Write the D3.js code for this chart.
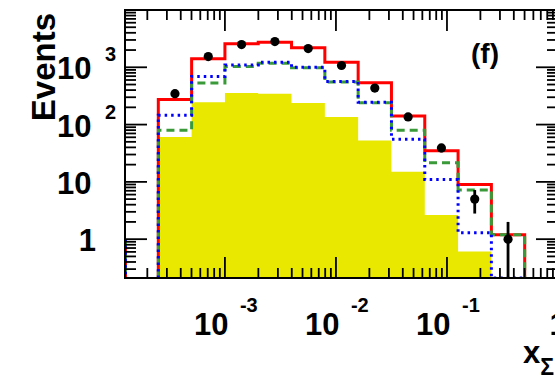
<!DOCTYPE html>
<html>
<head>
<meta charset="utf-8">
<script src="https://cdn.jsdelivr.net/npm/d3@7"></script>
<style>
  body { margin: 0; background: #fff; }
  text { font-family: "Liberation Sans", Arial, Helvetica, sans-serif; font-weight: bold; fill: #000; }
</style>
</head>
<body>
<div class="graph-goes-here"></div>
<script>
// bin edges, as log10(x)
var binEdgesExp = [-3.6, -3.3, -3.0, -2.7, -2.4, -2.1, -1.8, -1.5, -1.2, -0.9, -0.6, -0.3];

// histogram contents per bin
var totalMC   = [275, 1406, 2570, 2735, 2183, 1227, 537, 141, 34.8, 9.0, 1.19];
var greenMC   = [80, 530, 1032, 1176, 980, 551, 241, 80, 21.5, 7.2, 1.19];
var blueMC    = [145, 692, 1101, 1227, 1000, 566, 246, 55.5, 11, 1.3, 0];
var yellowMC  = [61, 246, 355, 346, 237, 136, 53, 15, 2.65, 0.61, 0];

// data points and their errors
var dataPts   = [346, 1540, 2494, 2810, 2122, 1075, 433, 136, 39.2, 5.0, 1.0];
var dataErr   = [18.6, 39.2, 49.9, 53, 46, 32.8, 20.8, 11.7, 6.3, 2.2, 1.0];

// axis labels
var xLabelExps = [-3, -2, -1, 0];
var yLabelExps = [0, 1, 2, 3];

var W = 555, H = 375;
var frame = { left: 125, right: 558, top: 10, bottom: 278 };

var svg = d3.select(".graph-goes-here")
    .append("svg")
    .attr("width", W)
    .attr("height", H);

var x = d3.scaleLog().domain([Math.pow(10, -3.9), 1]).range([frame.left, frame.right]);
var y = d3.scaleLog().domain([0.21, 1e4]).range([frame.bottom, frame.top]);

var edges = binEdgesExp.map(e => Math.pow(10, e));
var yMin = y.domain()[0];

svg.append("clipPath").attr("id", "frameclip")
    .append("rect")
    .attr("x", frame.left).attr("y", frame.top)
    .attr("width", frame.right - frame.left)
    .attr("height", frame.bottom - frame.top);

var plot = svg.append("g").attr("clip-path", "url(#frameclip)");

function clampV(v) { return v < yMin ? yMin : v }

// step outline for a histogram
function histPoints(vals) {
    var pts = [[x(edges[0]), y(yMin)]];
    vals.forEach((v, i) => {
        pts.push([x(edges[i]), y(clampV(v))]);
        pts.push([x(edges[i + 1]), y(clampV(v))]);
    });
    pts.push([x(edges[edges.length - 1]), y(yMin)]);
    return pts;
}

// yellow filled histogram
plot.append("path")
    .attr("d", d3.line()(histPoints(yellowMC)) + "Z")
    .attr("fill", "#e8e800")
    .attr("stroke", "none");

// ticks (drawn over the fill)
var axes = svg.append("g").attr("stroke", "#000").attr("stroke-width", 1.8);

function isMajor(v) {
    var l = Math.log10(v);
    return Math.abs(l - Math.round(l)) < 1e-6;
}

x.ticks().forEach(t => {
    var len = isMajor(t) ? 21 : 10;
    axes.append("line").attr("x1", x(t)).attr("x2", x(t))
        .attr("y1", frame.bottom).attr("y2", frame.bottom - len);
    axes.append("line").attr("x1", x(t)).attr("x2", x(t))
        .attr("y1", frame.top).attr("y2", frame.top + len);
});

y.ticks().forEach(t => {
    var len = isMajor(t) ? 22 : 11;
    axes.append("line").attr("y1", y(t)).attr("y2", y(t))
        .attr("x1", frame.left).attr("x2", frame.left + len);
    axes.append("line").attr("y1", y(t)).attr("y2", y(t))
        .attr("x1", frame.right).attr("x2", frame.right - len);
});

// small stub at the left frame edge
var stub = [[x.domain()[0], 1], [x.domain()[0], yMin]].map(d => [x(d[0]) + 1, y(d[1])]);

var styles = [
    { vals: totalMC, color: "#ff0000", dash: null },
    { vals: greenMC, color: "#3a9a3a", dash: "8,5" },
    { vals: blueMC, color: "#0000ff", dash: "2.5,4" }
];

styles.forEach(s => {
    plot.append("path")
        .attr("d", d3.line()(histPoints(s.vals)))
        .attr("fill", "none")
        .attr("stroke", s.color)
        .attr("stroke-width", 3)
        .attr("stroke-dasharray", s.dash);
    plot.append("path")
        .attr("d", d3.line()(stub))
        .attr("fill", "none")
        .attr("stroke", s.color)
        .attr("stroke-width", 2)
        .attr("stroke-dasharray", s.dash);
});

// data points with error bars
var centers = dataPts.map((d, i) => Math.sqrt(edges[i] * edges[i + 1]));

plot.selectAll(".err")
    .data(dataPts)
    .enter()
    .append("line")
    .attr("x1", (d, i) => x(centers[i]))
    .attr("x2", (d, i) => x(centers[i]))
    .attr("y1", (d, i) => y(clampV(d - dataErr[i])))
    .attr("y2", (d, i) => y(d + dataErr[i]))
    .attr("stroke", "#000")
    .attr("stroke-width", 2.8);

plot.selectAll(".pt")
    .data(dataPts)
    .enter()
    .append("circle")
    .attr("cx", (d, i) => x(centers[i]))
    .attr("cy", d => y(d))
    .attr("r", 4.6)
    .attr("fill", "#000");

// frame
svg.append("rect")
    .attr("x", frame.left).attr("y", frame.top)
    .attr("width", frame.right - frame.left)
    .attr("height", frame.bottom - frame.top)
    .attr("fill", "none")
    .attr("stroke", "#000")
    .attr("stroke-width", 2);

// x labels
xLabelExps.forEach(e => {
    var px = x(Math.pow(10, e));
    if (e === 0) {
        svg.append("text").attr("x", px).attr("y", 335)
            .attr("text-anchor", "middle").style("font-size", "31px").text("1");
        return;
    }
    svg.append("text").attr("x", px - 31).attr("y", 335)
        .style("font-size", "31px").text("10");
    svg.append("text").attr("x", px + 15).attr("y", 312)
        .style("font-size", "20px").text(String(e));
});

// y labels
yLabelExps.forEach(e => {
    var py = y(Math.pow(10, e));
    if (e === 0) {
        svg.append("text").attr("x", 96).attr("y", py + 12)
            .attr("text-anchor", "end").style("font-size", "31px").text("1");
        return;
    }
    svg.append("text").attr("x", 57).attr("y", py + 12)
        .style("font-size", "31px").text("10");
    if (e > 1) {
        svg.append("text").attr("x", 105).attr("y", py - 6)
            .style("font-size", "20px").text(String(e));
    }
});

// axis titles
svg.append("text")
    .attr("transform", "translate(55,13) rotate(-90)")
    .attr("text-anchor", "end")
    .style("font-size", "33px")
    .text("Events");

var xt = svg.append("text").attr("x", 523).attr("y", 363).style("font-size", "31px");
xt.append("tspan").text("x");
xt.append("tspan").attr("dy", 12).style("font-size", "23px").text("\u03A3");

svg.append("text")
    .attr("x", 471).attr("y", 63)
    .style("font-size", "28px")
    .text("(f)");
</script>
</body>
</html>
